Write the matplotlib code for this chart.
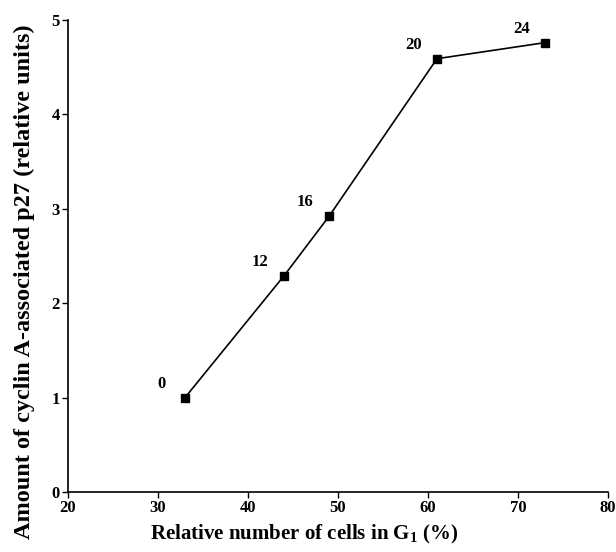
import matplotlib
matplotlib.use("Agg")
import matplotlib.pyplot as plt

plt.rcParams.update({
    "font.family": ["Liberation Serif", "DejaVu Serif"],
    "font.weight": "bold",
    "mathtext.fontset": "custom",
    "mathtext.bf": "Liberation Serif:bold",
    "mathtext.rm": "Liberation Serif:bold",
    "axes.spines.top": False, "axes.spines.right": False,
})

# data
g1_pct = [33, 44, 49, 61, 73]
p27_amount = [1.0, 2.29, 2.92, 4.59, 4.76]
hours = ["0", "12", "16", "20", "24"]

fig = plt.figure(figsize=(6.16, 5.52), dpi=100)
ax = fig.add_axes([0.1104, 0.1087, 0.8766, 0.8551])

ax.plot(g1_pct, p27_amount, color="black", lw=1.2, marker="s", ms=6,
        mfc="black", mec="black")

for x, y, lab in zip(g1_pct, p27_amount, hours):
    ax.annotate(lab, xy=(x, y), xytext=(-17, 10), textcoords="offset points",
                ha="center", va="center", fontsize=12, fontweight="bold")

ax.set_xlim(20, 80)
ax.set_ylim(0, 5)
ax.set_xticks(range(20, 81, 10))
ax.set_yticks(range(0, 6))
ax.tick_params(direction="out", length=4, width=1, labelsize=12, pad=2)
for lbl in ax.get_xticklabels() + ax.get_yticklabels():
    lbl.set_fontweight("bold")
for s in ("left", "bottom"):
    ax.spines[s].set_linewidth(1.2)

ax.set_xlabel("Relative number of cells in G$_\\mathbf{1}$ (%)", fontsize=15,
              fontweight="bold")
ax.set_ylabel("Amount of cyclin A-associated p27 (relative units)", fontsize=17.5,
              fontweight="bold")
ax.xaxis.set_label_coords(0.437, -0.066)
ax.yaxis.set_label_coords(-0.062, 0.445)

fig.savefig("out.png", dpi=100)
